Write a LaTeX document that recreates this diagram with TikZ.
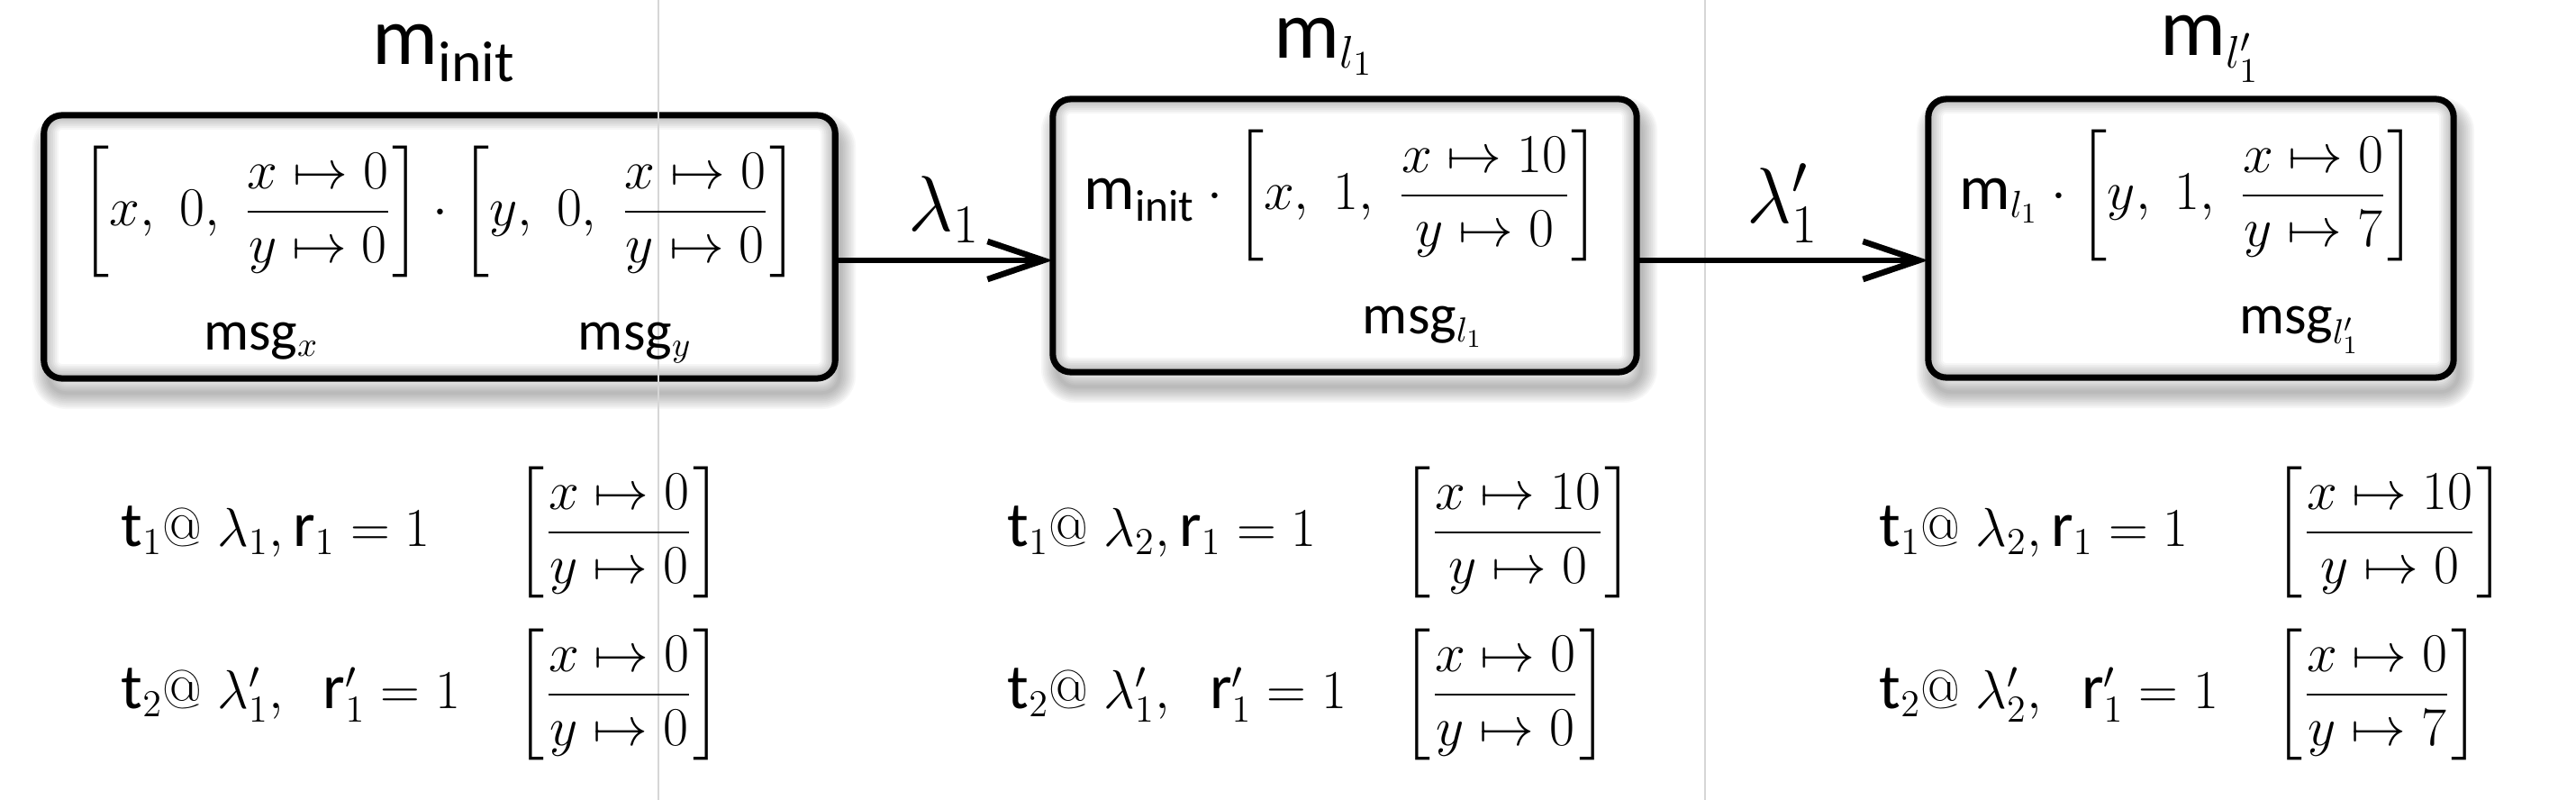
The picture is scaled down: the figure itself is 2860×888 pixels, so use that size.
\documentclass[tikz,border=0pt]{standalone}
\usepackage{amsmath}
\usepackage[no-math]{fontspec}
\setsansfont{Carlito}[Scale=1.15]
\usetikzlibrary{arrows.meta,calc,backgrounds}
\tikzset{
  boxst/.style={draw, line width=2pt, rounded corners=0.2cm, fill=white, inner sep=0pt, outer sep=0pt},
  mth/.style={inner sep=0pt, font=\fontsize{17.5}{21}\selectfont},
  ttl/.style={inner sep=0pt, anchor=base, font=\sffamily\fontsize{22.6}{27}\selectfont},
  msgl/.style={inner sep=0pt, anchor=base, font=\sffamily\fontsize{15.5}{19}\selectfont},
  lam/.style={inner sep=0pt, font=\fontsize{27}{31}\selectfont},
  arr/.style={line width=1.6pt, -{Straight Barb[length=0.62cm, width=0.42cm, line width=1.9pt]}},
  guide/.style={draw=black!16, line width=0.35pt},
}
\delimitershortfall=22pt
\delimiterfactor=800
\newcommand{\cm}{,\;}
\newcommand{\bfr}[1]{\left[#1\right]}
\newcommand{\brow}[3]{\makebox[4.38cm][l]{$#1$}$\left[\dfrac{#2}{#3}\right]$}
\begin{document}
\begin{tikzpicture}[x=0.01cm, y=-0.01cm]
\useasboundingbox (0,0) rectangle (2860,888);

\node[boxst, minimum width=8.78cm, minimum height=2.92cm] (b1) at (488,274) {};
\node[boxst, minimum width=6.48cm, minimum height=3.03cm] (b2) at (1493,261.5) {};
\node[boxst, minimum width=5.83cm, minimum height=3.09cm] (b3) at (2432.5,264.5) {};

\foreach \b in {b1,b2,b3}{
  \begin{scope}[on background layer]
    \foreach \k in {1,...,10}{
      \pgfmathsetmacro\lw{\k*0.036}
      \draw[black, opacity=0.03, line width=\lw cm, rounded corners=0.2cm]
        ($(\b.north west)+(0.05cm,-0.16cm)$) rectangle ($(\b.south east)+(0.05cm,-0.16cm)$);
    }
  \end{scope}
  \begin{scope}
    \clip[rounded corners=0.2cm] (\b.north west) rectangle (\b.south east);
    \foreach \k in {1,...,8}{
      \pgfmathsetmacro\lw{\k*0.04}
      \draw[black, opacity=0.035, line width=\lw cm, rounded corners=0.2cm]
        (\b.north west) rectangle (\b.south east);
    }
  \end{scope}
}

\draw[guide] (731,0) -- (731,888);
\draw[guide] (1893,0) -- (1893,888);

% titles
\node[ttl] (t1) at (493,72) {m$_{\textsf{init}}$};
\node[ttl] (t2) at (1470,65) {m$_{l_1}$};
\node[ttl] (t3) at (2454,62) {m$_{l'_1}$};

% box contents
\node[mth] (c1) at (488,235) {$\bfr{x\cm 0\cm \dfrac{x\mapsto 0}{y\mapsto 0}}\cdot\bfr{y\cm 0\cm \dfrac{x\mapsto 0}{y\mapsto 0}}$};
\node[msgl] (mx) at (290,388) {msg$_x$};
\node[msgl] (my) at (705,388) {msg$_y$};

\node[mth] (c2) at (1490,217) {$\textsf{m}_{\textsf{init}}\cdot\bfr{x\cm 1\cm \dfrac{x\mapsto 10}{y\mapsto 0}}$};
\node[msgl] (ml1) at (1580,370) {msg$_{l_1}$};

\node[mth] (c3) at (2429,217) {$\textsf{m}_{l_1}\cdot\bfr{y\cm 1\cm \dfrac{x\mapsto 0}{y\mapsto 7}}$};
\node[msgl] (ml1p) at (2553,370) {msg$_{l'_1}$};

% arrows
\coordinate (ay) at (0,289);
\draw[arr] (b1.east |- ay) -- node[lam, above=0.17cm] (l1) {$\lambda_1$} (b2.west |- ay);
\draw[arr] (b2.east |- ay) -- node[lam, above=0.17cm] (l2) {$\lambda'_1$} (b3.west |- ay);

% bottom rows
\node[mth, anchor=west] (r11) at (134,591) {\brow{\textsf{t}_1@\;\lambda_1, \textsf{r}_1 = 1}{x\mapsto 0}{y\mapsto 0}};
\node[mth, anchor=west] (r12) at (134,771) {\brow{\textsf{t}_2@\;\lambda'_1,\;\; \textsf{r}'_1 = 1}{x\mapsto 0}{y\mapsto 0}};
\node[mth, anchor=west] (r21) at (1118,591) {\brow{\textsf{t}_1@\;\lambda_2, \textsf{r}_1 = 1}{x\mapsto 10}{y\mapsto 0}};
\node[mth, anchor=west] (r22) at (1118,771) {\brow{\textsf{t}_2@\;\lambda'_1,\;\; \textsf{r}'_1 = 1}{x\mapsto 0}{y\mapsto 0}};
\node[mth, anchor=west] (r31) at (2086,591) {\brow{\textsf{t}_1@\;\lambda_2, \textsf{r}_1 = 1}{x\mapsto 10}{y\mapsto 0}};
\node[mth, anchor=west] (r32) at (2086,771) {\brow{\textsf{t}_2@\;\lambda'_2,\;\; \textsf{r}'_1 = 1}{x\mapsto 0}{y\mapsto 7}};
\end{tikzpicture}
\end{document}
